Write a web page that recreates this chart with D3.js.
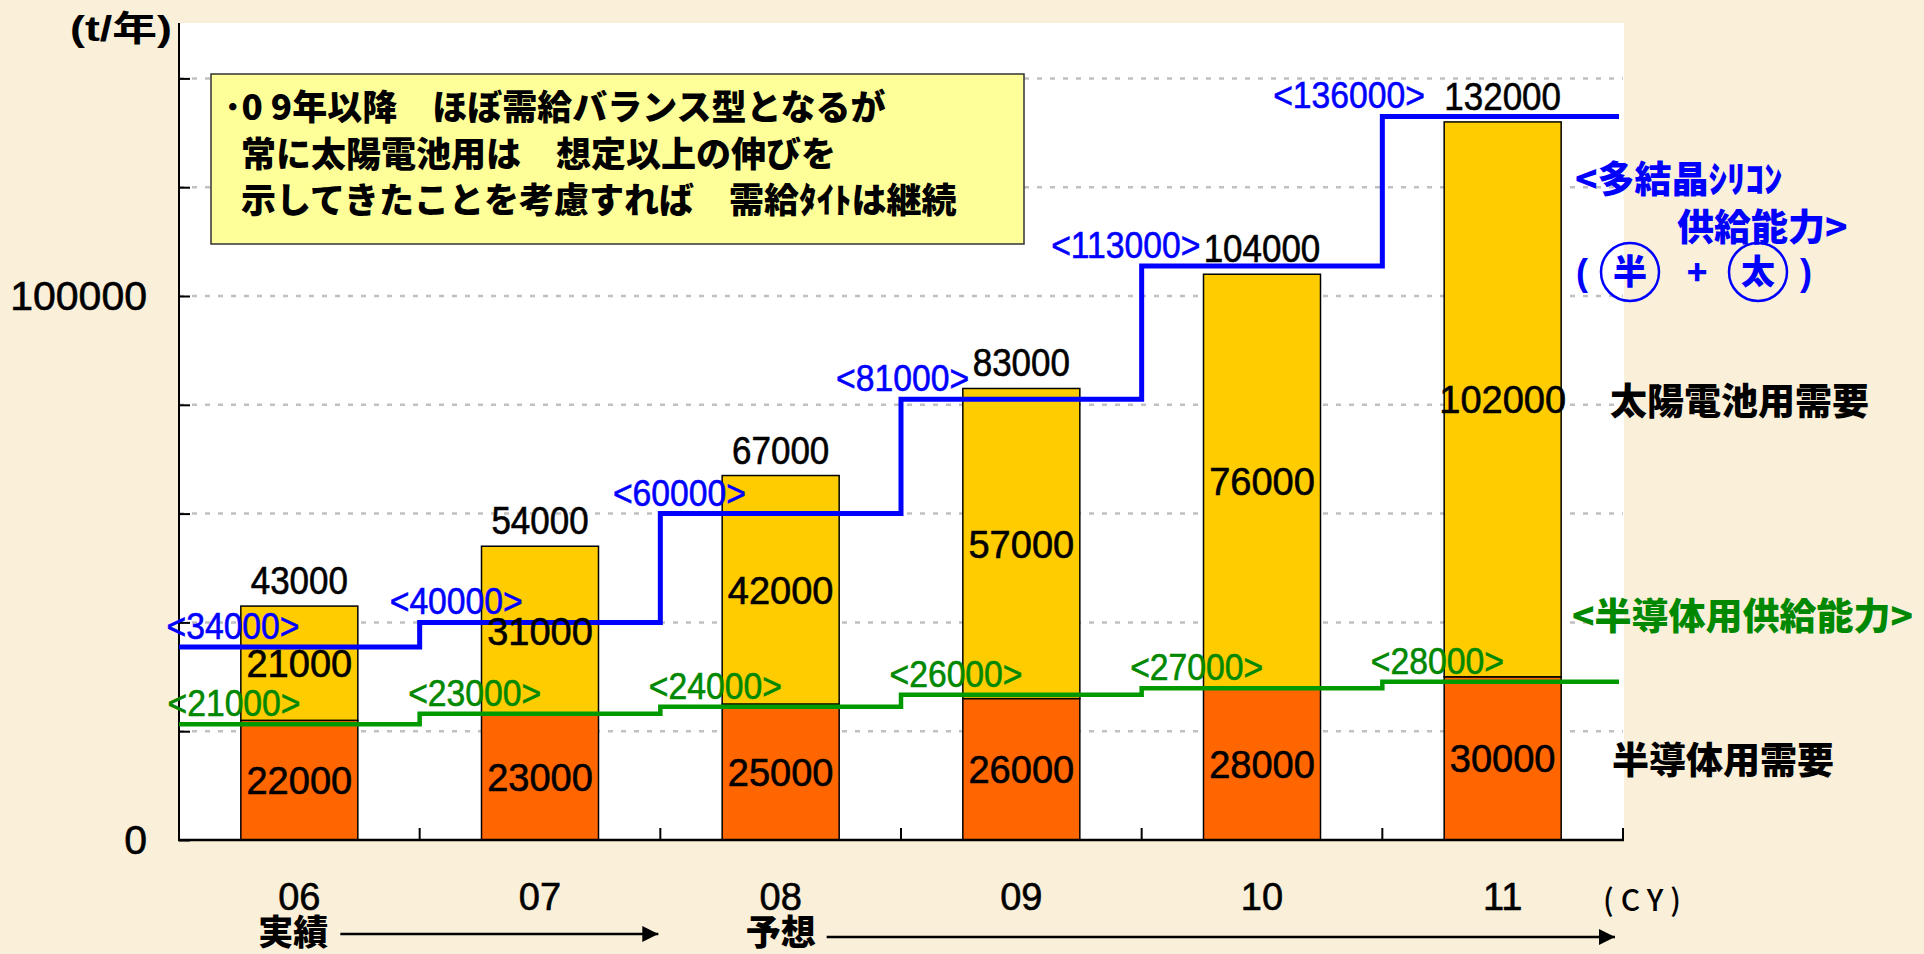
<!DOCTYPE html>
<html>
<head>
<meta charset="utf-8">
<script src="https://cdnjs.cloudflare.com/ajax/libs/d3/7.8.5/d3.min.js"></script>
<style>
  html, body { margin: 0; padding: 0; background: #faefd9; }
  svg { display: block; }
  .num { font-family: 'Liberation Sans', Arial, sans-serif; }
  .jp { font-family: 'Noto Sans CJK JP', sans-serif; font-weight: 900; }
</style>
</head>
<body>
<svg width="1924" height="954"></svg>
<script>
// data
var years = ['06', '07', '08', '09', '10', '11'];
var semiDemand = [22000, 23000, 25000, 26000, 28000, 30000];
var solarDemand = [21000, 31000, 42000, 57000, 76000, 102000];
var totalDemand = [43000, 54000, 67000, 83000, 104000, 132000];
// poly-Si capacity: printed labels, and the level the step is actually drawn at
var polyCapLabel = [34000, 40000, 60000, 81000, 113000, 136000];
var polyCapLevel = [35500, 40000, 60000, 81000, 105500, 133000];
// semiconductor capacity
var semiCapLabel = [21000, 23000, 24000, 26000, 27000, 28000];
var semiCapLevel = [21300, 23200, 24500, 26700, 27900, 29100];
var yTicks = [0, 20000, 40000, 60000, 80000, 100000, 120000, 140000];
var yTickLabels = [0, 100000];

var noteLines = ['･0 9年以降　ほぼ需給バランス型となるが',
                 '常に太陽電池用は　想定以上の伸びを',
                 '示してきたことを考慮すれば　需給ﾀｲﾄは継続'];

var svg = d3.select('svg');

var x = d3.scaleBand().domain(years).range([179, 1623]).padding(0);
var y = d3.scaleLinear().domain([0, 150000]).range([840, 24]);
var bw = x.bandwidth(),
    barW = 117;

// squeeze text horizontally (the slide text is a bit narrow)
function squish(sel, k) {
  sel.each(function() {
    var w = this.getComputedTextLength();
    d3.select(this).attr('textLength', w * k).attr('lengthAdjust', 'spacingAndGlyphs');
  });
}
// slightly heavier digits, like the original
function heavy(sel, col) {
  sel.attr('stroke', col).attr('stroke-width', 0.6);
}

// plot background
svg.append('rect')
  .attr('x', 179)
  .attr('y', 23)
  .attr('width', 1624 - 179)
  .attr('height', 840 - 23)
  .attr('fill', '#fff');

// dotted grid
svg.append('g').selectAll('line')
  .data(yTicks.slice(1))
  .join('line')
  .attr('x1', 179)
  .attr('x2', 1623)
  .attr('y1', function(d) { return y(d); })
  .attr('y2', function(d) { return y(d); })
  .attr('stroke', '#c0c0c0')
  .attr('stroke-width', 2.5)
  .attr('stroke-dasharray', '5,8');

// stacked bars
var bars = svg.append('g');
bars.selectAll('.semi')
  .data(years)
  .join('rect')
  .attr('class', 'semi')
  .attr('x', function(d) { return x(d) + (bw - barW) / 2; })
  .attr('y', function(d, i) { return y(semiDemand[i]); })
  .attr('width', barW)
  .attr('height', function(d, i) { return y(0) - y(semiDemand[i]); })
  .attr('fill', '#ff6600')
  .attr('stroke', '#000')
  .attr('stroke-width', 1.5);
bars.selectAll('.solar')
  .data(years)
  .join('rect')
  .attr('class', 'solar')
  .attr('x', function(d) { return x(d) + (bw - barW) / 2; })
  .attr('y', function(d, i) { return y(semiDemand[i] + solarDemand[i]); })
  .attr('width', barW)
  .attr('height', function(d, i) { return y(semiDemand[i]) - y(semiDemand[i] + solarDemand[i]); })
  .attr('fill', '#ffcc00')
  .attr('stroke', '#000')
  .attr('stroke-width', 1.5);

// axes
var yAxis = d3.axisLeft(y)
  .tickValues(yTicks)
  .tickSizeInner(-11)
  .tickSizeOuter(0)
  .tickPadding(32)
  .tickFormat(function(d) { return yTickLabels.indexOf(d) >= 0 ? d : ''; });
var gy = svg.append('g')
  .attr('transform', 'translate(179,0)')
  .call(yAxis);
gy.select('.domain').attr('stroke', '#000').attr('stroke-width', 2).attr('d', 'M0,840V23');
gy.selectAll('.tick line').attr('stroke', '#000').attr('stroke-width', 2);
gy.selectAll('.tick text')
  .attr('class', 'num')
  .attr('font-size', 41)
  .attr('fill', '#000')
  .call(heavy, '#000');

var bounds = years.map(function(d) { return x(d); }).concat([x.range()[1]]);
svg.append('g').selectAll('line')
  .data(bounds)
  .join('line')
  .attr('x1', function(d) { return d; })
  .attr('x2', function(d) { return d; })
  .attr('y1', 840)
  .attr('y2', 828)
  .attr('stroke', '#000')
  .attr('stroke-width', 2);
svg.append('line')
  .attr('x1', 178)
  .attr('x2', 1624)
  .attr('y1', 840)
  .attr('y2', 840)
  .attr('stroke', '#000')
  .attr('stroke-width', 2.5);

svg.append('g').selectAll('text')
  .data(years)
  .join('text')
  .attr('class', 'num')
  .attr('x', function(d) { return x(d) + bw / 2; })
  .attr('y', 910)
  .attr('text-anchor', 'middle')
  .attr('font-size', 38)
  .text(function(d) { return d; })
  .call(heavy, '#000');

// capacity step lines
var stepLine = d3.line().curve(d3.curveStepAfter);
function stepPts(levels) {
  return years.map(function(d, i) { return [x(d), y(levels[i])]; })
    .concat([[x.range()[1] - 4, y(levels[levels.length - 1])]]);
}
svg.append('path')
  .attr('d', stepLine(stepPts(semiCapLevel)))
  .attr('fill', 'none')
  .attr('stroke', '#009900')
  .attr('stroke-width', 4.5);
svg.append('path')
  .attr('d', stepLine(stepPts(polyCapLevel)))
  .attr('fill', 'none')
  .attr('stroke', '#0000ff')
  .attr('stroke-width', 5);

// bar labels
svg.append('g').selectAll('text')
  .data(years)
  .join('text')
  .attr('class', 'num')
  .attr('x', function(d) { return x(d) + bw / 2; })
  .attr('y', function(d, i) { return y(semiDemand[i] / 2) + 14; })
  .attr('text-anchor', 'middle')
  .attr('font-size', 38)
  .text(function(d, i) { return semiDemand[i]; })
  .call(heavy, '#000');
svg.append('g').selectAll('text')
  .data(years)
  .join('text')
  .attr('class', 'num')
  .attr('x', function(d) { return x(d) + bw / 2; })
  .attr('y', function(d, i) { return y(semiDemand[i] + solarDemand[i] / 2) + 14; })
  .attr('text-anchor', 'middle')
  .attr('font-size', 38)
  .text(function(d, i) { return solarDemand[i]; })
  .call(heavy, '#000');
svg.append('g').selectAll('text')
  .data(years)
  .join('text')
  .attr('class', 'num')
  .attr('x', function(d) { return x(d) + bw / 2; })
  .attr('y', function(d, i) { return y(totalDemand[i]) - 12; })
  .attr('text-anchor', 'middle')
  .attr('font-size', 38)
  .text(function(d, i) { return totalDemand[i]; })
  .call(squish, 0.92)
  .call(heavy, '#000');

// capacity labels
var polyLabelX = d3.scaleLinear().domain([0, years.length - 1]).range([233, 1349]);
svg.append('g').selectAll('text')
  .data(years)
  .join('text')
  .attr('class', 'num')
  .attr('x', function(d, i) { return polyLabelX(i); })
  .attr('y', function(d, i) { return y(polyCapLevel[i]) - 8; })
  .attr('text-anchor', 'middle')
  .attr('font-size', 37)
  .attr('fill', '#0000ff')
  .text(function(d, i) { return '<' + polyCapLabel[i] + '>'; })
  .call(squish, 0.91)
  .call(heavy, '#0000ff');
svg.append('g').selectAll('text')
  .data(years)
  .join('text')
  .attr('class', 'num')
  .attr('x', function(d) { return x(d) + 55; })
  .attr('y', function(d, i) { return y(semiCapLevel[i]) - 8; })
  .attr('text-anchor', 'middle')
  .attr('font-size', 37)
  .attr('fill', '#008800')
  .text(function(d, i) { return '<' + semiCapLabel[i] + '>'; })
  .call(squish, 0.91)
  .call(heavy, '#008800');

// note box
var note = svg.append('g').attr('transform', 'translate(211,74)');
note.append('rect')
  .attr('width', 813)
  .attr('height', 170)
  .attr('fill', '#ffff99')
  .attr('stroke', '#333')
  .attr('stroke-width', 1.5);
note.selectAll('text')
  .data(noteLines)
  .join('text')
  .attr('class', 'jp')
  .attr('x', function(d, i) { return i == 0 ? 13 : 30; })
  .attr('y', function(d, i) { return 46 + i * 46.5; })
  .attr('font-size', 35)
  .text(function(d) { return d; });

// unit labels
svg.append('text')
  .attr('x', 172)
  .attr('y', 41)
  .attr('text-anchor', 'end')
  .attr('font-family', "'Liberation Sans', 'Noto Sans CJK JP', sans-serif")
  .attr('font-size', 35)
  .attr('font-weight', 700)
  .text('(t/年)')
  .call(function(s) { s.attr('textLength', 102).attr('lengthAdjust', 'spacingAndGlyphs'); });
svg.append('text')
  .attr('x', 1603)
  .attr('y', 911)
  .attr('font-family', "'Noto Sans CJK JP', sans-serif")
  .attr('font-weight', 500)
  .attr('font-size', 30)
  .attr('letter-spacing', 7)
  .text('(CY)');

// right-hand legend texts
var leg = svg.append('g').attr('class', 'jp');
leg.append('text').attr('x', 1575).attr('y', 193).attr('font-size', 37).attr('fill', '#0000ff').text('<多結晶ｼﾘｺﾝ');
leg.append('text').attr('x', 1677).attr('y', 241).attr('font-size', 37).attr('fill', '#0000ff').text('供給能力>');
leg.append('text').attr('x', 1576).attr('y', 285).attr('font-size', 36).attr('fill', '#0000ff').attr('class', 'num').text('(');
leg.append('text').attr('x', 1697).attr('y', 285).attr('font-size', 34).attr('fill', '#0000ff').attr('text-anchor', 'middle').text('+');
leg.append('text').attr('x', 1800).attr('y', 285).attr('font-size', 36).attr('fill', '#0000ff').attr('class', 'num').text(')');
[['半', 1630], ['太', 1758]].forEach(function(c) {
  leg.append('circle')
    .attr('cx', c[1])
    .attr('cy', 272)
    .attr('r', 29)
    .attr('fill', 'none')
    .attr('stroke', '#0000ff')
    .attr('stroke-width', 2.5);
  leg.append('text')
    .attr('x', c[1])
    .attr('y', 284)
    .attr('text-anchor', 'middle')
    .attr('font-size', 34)
    .attr('fill', '#0000ff')
    .text(c[0]);
});
leg.append('text').attr('x', 1610).attr('y', 415).attr('font-size', 37).attr('fill', '#000').text('太陽電池用需要');
leg.append('text').attr('x', 1572).attr('y', 630).attr('font-size', 37).attr('fill', '#008800').text('<半導体用供給能力>');
leg.append('text').attr('x', 1612).attr('y', 774).attr('font-size', 37).attr('fill', '#000').text('半導体用需要');

// actual / forecast arrows
svg.append('defs').append('marker')
  .attr('id', 'arr')
  .attr('markerUnits', 'userSpaceOnUse')
  .attr('markerWidth', 18)
  .attr('markerHeight', 16)
  .attr('refX', 16)
  .attr('refY', 8)
  .attr('orient', 'auto')
  .append('path')
  .attr('d', 'M0,0L16,8L0,16Z')
  .attr('fill', '#000');

var cx = function(i) { return x(years[i]) + bw / 2; };
svg.append('text').attr('class', 'jp').attr('x', cx(0) - 6).attr('y', 945).attr('text-anchor', 'middle').attr('font-size', 35).text('実績');
svg.append('text').attr('class', 'jp').attr('x', cx(2)).attr('y', 945).attr('text-anchor', 'middle').attr('font-size', 35).text('予想');
svg.append('line')
  .attr('x1', cx(0) + 41)
  .attr('x2', x(years[2]) - 2)
  .attr('y1', 934)
  .attr('y2', 934)
  .attr('stroke', '#000')
  .attr('stroke-width', 2.5)
  .attr('marker-end', 'url(#arr)');
svg.append('line')
  .attr('x1', cx(2) + 46)
  .attr('x2', x.range()[1] - 8)
  .attr('y1', 937)
  .attr('y2', 937)
  .attr('stroke', '#000')
  .attr('stroke-width', 2.5)
  .attr('marker-end', 'url(#arr)');
</script>
</body>
</html>
